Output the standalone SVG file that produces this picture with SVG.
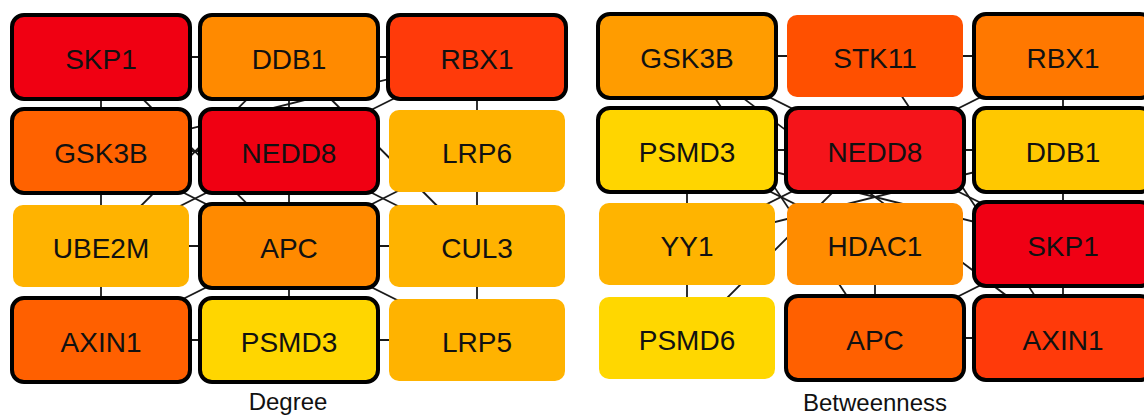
<svg xmlns="http://www.w3.org/2000/svg" width="1144" height="416" viewBox="0 0 1144 416">
  <style>
    .edge { stroke: #1a1a1a; stroke-width: 1.8; fill: none; }
    .plain { stroke: none; }
    .hub { stroke: #000; stroke-width: 4; }
    .lbl { font-family: "Liberation Sans", Arial, sans-serif; font-size: 28px; fill: #111; text-anchor: middle; }
    .cap { font-family: "Liberation Sans", Arial, sans-serif; font-size: 24px; fill: #111; text-anchor: middle; }
  </style>
  <rect width="1144" height="416" fill="#fff"/>

  <!-- Degree network: edges -->
  <g id="degree-edges">
    <line class="edge" x1="101" y1="57" x2="289" y2="57"/>
    <line class="edge" x1="289" y1="57" x2="477" y2="57"/>
    <line class="edge" x1="101" y1="57" x2="101" y2="151"/>
    <line class="edge" x1="101" y1="57" x2="289" y2="246"/>
    <line class="edge" x1="289" y1="57" x2="289" y2="151"/>
    <line class="edge" x1="289" y1="57" x2="477" y2="246"/>
    <line class="edge" x1="289" y1="57" x2="101" y2="246"/>
    <line class="edge" x1="477" y1="57" x2="289" y2="151"/>
    <line class="edge" x1="477" y1="57" x2="101" y2="151"/>
    <line class="edge" x1="477" y1="57" x2="477" y2="151"/>
    <line class="edge" x1="101" y1="151" x2="289" y2="151"/>
    <line class="edge" x1="101" y1="151" x2="101" y2="246"/>
    <line class="edge" x1="101" y1="151" x2="289" y2="246"/>
    <line class="edge" x1="289" y1="151" x2="289" y2="246"/>
    <line class="edge" x1="289" y1="151" x2="101" y2="246"/>
    <line class="edge" x1="289" y1="151" x2="477" y2="246"/>
    <line class="edge" x1="289" y1="246" x2="477" y2="151"/>
    <line class="edge" x1="289" y1="246" x2="101" y2="246"/>
    <line class="edge" x1="289" y1="246" x2="477" y2="246"/>
    <line class="edge" x1="289" y1="246" x2="101" y2="340"/>
    <line class="edge" x1="289" y1="246" x2="289" y2="340"/>
    <line class="edge" x1="289" y1="246" x2="477" y2="340"/>
    <line class="edge" x1="289" y1="340" x2="101" y2="340"/>
    <line class="edge" x1="289" y1="340" x2="477" y2="340"/>
    <line class="edge" x1="477" y1="151" x2="477" y2="246"/>
    <line class="edge" x1="477" y1="246" x2="477" y2="340"/>
    <line class="edge" x1="101" y1="246" x2="101" y2="340"/>
  </g>

  <!-- Betweenness network: edges -->
  <g id="betweenness-edges">
    <line class="edge" x1="687" y1="56" x2="875" y2="56"/>
    <line class="edge" x1="875" y1="56" x2="1063" y2="56"/>
    <line class="edge" x1="687" y1="56" x2="875" y2="150"/>
    <line class="edge" x1="687" y1="56" x2="875" y2="338"/>
    <line class="edge" x1="687" y1="56" x2="1063" y2="338"/>
    <line class="edge" x1="875" y1="56" x2="1063" y2="338"/>
    <line class="edge" x1="1063" y1="56" x2="875" y2="150"/>
    <line class="edge" x1="1063" y1="56" x2="1063" y2="150"/>
    <line class="edge" x1="687" y1="150" x2="875" y2="150"/>
    <line class="edge" x1="687" y1="150" x2="687" y2="244"/>
    <line class="edge" x1="687" y1="150" x2="875" y2="244"/>
    <line class="edge" x1="687" y1="150" x2="1063" y2="244"/>
    <line class="edge" x1="875" y1="150" x2="1063" y2="150"/>
    <line class="edge" x1="875" y1="150" x2="1063" y2="244"/>
    <line class="edge" x1="687" y1="244" x2="1063" y2="150"/>
    <line class="edge" x1="687" y1="244" x2="875" y2="150"/>
    <line class="edge" x1="687" y1="244" x2="687" y2="338"/>
    <line class="edge" x1="687" y1="338" x2="875" y2="150"/>
    <line class="edge" x1="875" y1="244" x2="875" y2="338"/>
    <line class="edge" x1="1063" y1="150" x2="1063" y2="244"/>
    <line class="edge" x1="1063" y1="244" x2="1063" y2="338"/>
    <line class="edge" x1="875" y1="338" x2="1063" y2="244"/>
    <line class="edge" x1="875" y1="338" x2="1063" y2="338"/>
  </g>

  <!-- Degree network: nodes -->
  <g id="deg-SKP1"><rect class="hub" x="12" y="15" width="178" height="84" rx="12" fill="#F00012"/><text class="lbl" x="101" y="69">SKP1</text></g>
  <g id="deg-DDB1"><rect class="hub" x="200" y="15" width="178" height="84" rx="12" fill="#FF8A00"/><text class="lbl" x="289" y="69">DDB1</text></g>
  <g id="deg-RBX1"><rect class="hub" x="388" y="15" width="178" height="84" rx="12" fill="#FF3A0A"/><text class="lbl" x="477" y="69">RBX1</text></g>
  <g id="deg-GSK3B"><rect class="hub" x="12" y="109" width="178" height="84" rx="12" fill="#FF6200"/><text class="lbl" x="101" y="163">GSK3B</text></g>
  <g id="deg-NEDD8"><rect class="hub" x="200" y="109" width="178" height="84" rx="12" fill="#F00012"/><text class="lbl" x="289" y="163">NEDD8</text></g>
  <g id="deg-LRP6"><rect class="plain" x="389" y="110" width="176" height="82" rx="10" fill="#FFB300"/><text class="lbl" x="477" y="163">LRP6</text></g>
  <g id="deg-UBE2M"><rect class="plain" x="13" y="205" width="176" height="82" rx="10" fill="#FFB300"/><text class="lbl" x="101" y="258">UBE2M</text></g>
  <g id="deg-APC"><rect class="hub" x="200" y="204" width="178" height="84" rx="12" fill="#FF8A00"/><text class="lbl" x="289" y="258">APC</text></g>
  <g id="deg-CUL3"><rect class="plain" x="389" y="205" width="176" height="82" rx="10" fill="#FFB300"/><text class="lbl" x="477" y="258">CUL3</text></g>
  <g id="deg-AXIN1"><rect class="hub" x="12" y="298" width="178" height="84" rx="12" fill="#FF6000"/><text class="lbl" x="101" y="352">AXIN1</text></g>
  <g id="deg-PSMD3"><rect class="hub" x="200" y="298" width="178" height="84" rx="12" fill="#FFD600"/><text class="lbl" x="289" y="352">PSMD3</text></g>
  <g id="deg-LRP5"><rect class="plain" x="389" y="299" width="176" height="82" rx="10" fill="#FFB300"/><text class="lbl" x="477" y="352">LRP5</text></g>

  <!-- Betweenness network: nodes -->
  <g id="btw-GSK3B"><rect class="hub" x="598" y="14" width="178" height="84" rx="12" fill="#FF9C00"/><text class="lbl" x="687" y="68">GSK3B</text></g>
  <g id="btw-STK11"><rect class="plain" x="787" y="15" width="176" height="82" rx="10" fill="#FF5000"/><text class="lbl" x="875" y="68">STK11</text></g>
  <g id="btw-RBX1"><rect class="hub" x="974" y="14" width="178" height="84" rx="12" fill="#FF7800"/><text class="lbl" x="1063" y="68">RBX1</text></g>
  <g id="btw-PSMD3"><rect class="hub" x="598" y="108" width="178" height="84" rx="12" fill="#FFD500"/><text class="lbl" x="687" y="162">PSMD3</text></g>
  <g id="btw-NEDD8"><rect class="hub" x="786" y="108" width="178" height="84" rx="12" fill="#F5141A"/><text class="lbl" x="875" y="162">NEDD8</text></g>
  <g id="btw-DDB1"><rect class="hub" x="974" y="108" width="178" height="84" rx="12" fill="#FFC800"/><text class="lbl" x="1063" y="162">DDB1</text></g>
  <g id="btw-YY1"><rect class="plain" x="599" y="203" width="176" height="82" rx="10" fill="#FFB400"/><text class="lbl" x="687" y="256">YY1</text></g>
  <g id="btw-HDAC1"><rect class="plain" x="787" y="203" width="176" height="82" rx="10" fill="#FF8C00"/><text class="lbl" x="875" y="256">HDAC1</text></g>
  <g id="btw-SKP1"><rect class="hub" x="974" y="202" width="178" height="84" rx="12" fill="#F00014"/><text class="lbl" x="1063" y="256">SKP1</text></g>
  <g id="btw-PSMD6"><rect class="plain" x="599" y="297" width="176" height="82" rx="10" fill="#FFD700"/><text class="lbl" x="687" y="350">PSMD6</text></g>
  <g id="btw-APC"><rect class="hub" x="786" y="296" width="178" height="84" rx="12" fill="#FF6000"/><text class="lbl" x="875" y="350">APC</text></g>
  <g id="btw-AXIN1"><rect class="hub" x="974" y="296" width="178" height="84" rx="12" fill="#FF3A0A"/><text class="lbl" x="1063" y="350">AXIN1</text></g>

  <!-- Panel captions -->
  <text class="cap" x="288" y="410">Degree</text>
  <text class="cap" x="875" y="411">Betweenness</text>
</svg>
